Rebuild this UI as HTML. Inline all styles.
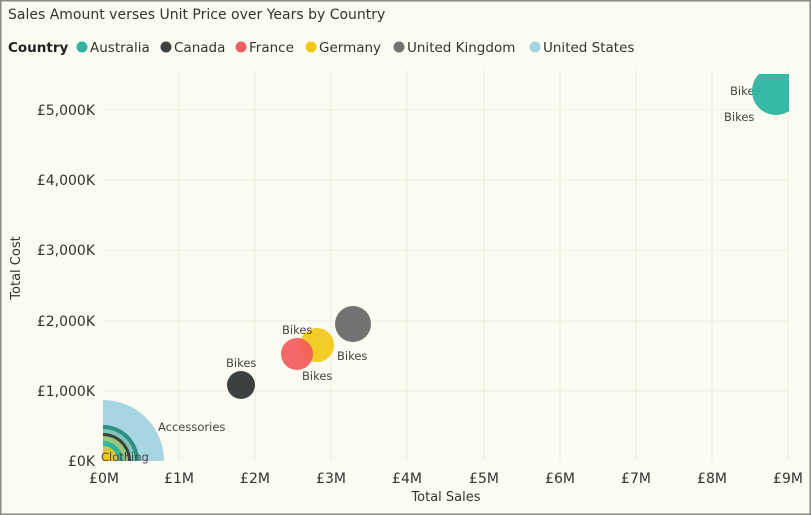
<!DOCTYPE html><html><head><style>
body{margin:0;width:811px;height:515px;overflow:hidden;background:#fbfbf1;font-family:"DejaVu Sans","Liberation Sans",sans-serif}
</style></head><body>
<svg width="811" height="515" xmlns="http://www.w3.org/2000/svg" style="position:absolute;left:0;top:0">
<rect x="0.5" y="0.5" width="810" height="514" fill="#fbfbf1" stroke="#8a8a84" stroke-width="2"/>
<text x="8" y="19" font-size="14" fill="#333">Sales Amount verses Unit Price over Years by Country</text>
<g font-size="13.5" fill="#333">
<text x="8" y="52" font-weight="bold" fill="#222">Country</text>
<circle cx="82" cy="47" r="5.5" fill="#2db5a0"/><text x="90" y="52">Australia</text>
<circle cx="166" cy="47" r="5.5" fill="#3c403e"/><text x="174" y="52">Canada</text>
<circle cx="241" cy="47" r="5.5" fill="#f06060"/><text x="249" y="52">France</text>
<circle cx="311" cy="47" r="5.5" fill="#f2c811"/><text x="319" y="52">Germany</text>
<circle cx="399" cy="47" r="5.5" fill="#707370"/><text x="407" y="52">United Kingdom</text>
<circle cx="535" cy="47" r="5.5" fill="#a3d3e2"/><text x="543" y="52">United States</text>
</g>
<g stroke="#ebebe0" stroke-width="1">
<line x1="179" y1="70" x2="179" y2="461"/><line x1="255" y1="70" x2="255" y2="461"/><line x1="331" y1="70" x2="331" y2="461"/><line x1="407" y1="70" x2="407" y2="461"/><line x1="484" y1="70" x2="484" y2="461"/><line x1="560" y1="70" x2="560" y2="461"/><line x1="636" y1="70" x2="636" y2="461"/><line x1="712" y1="70" x2="712" y2="461"/><line x1="788" y1="70" x2="788" y2="461"/>
<line x1="103" y1="391" x2="789" y2="391"/><line x1="103" y1="321" x2="789" y2="321"/><line x1="103" y1="250" x2="789" y2="250"/><line x1="103" y1="180" x2="789" y2="180"/><line x1="103" y1="110" x2="789" y2="110"/>
</g>
<g font-size="14" fill="#333" text-anchor="end">
<text x="95" y="466">£0K</text><text x="95" y="396">£1,000K</text><text x="95" y="326">£2,000K</text><text x="95" y="255">£3,000K</text><text x="95" y="185">£4,000K</text><text x="95" y="115">£5,000K</text>
</g>
<g font-size="14" fill="#333" text-anchor="middle">
<text x="104" y="483">£0M</text><text x="179" y="483">£1M</text><text x="255" y="483">£2M</text><text x="331" y="483">£3M</text><text x="407" y="483">£4M</text><text x="484" y="483">£5M</text><text x="560" y="483">£6M</text><text x="636" y="483">£7M</text><text x="712" y="483">£8M</text><text x="788" y="483">£9M</text>
</g>
<text x="446" y="501" font-size="13" fill="#333" text-anchor="middle">Total Sales</text>
<text transform="translate(20,268) rotate(-90)" font-size="13" fill="#333" text-anchor="middle">Total Cost</text>
<defs><clipPath id="c"><rect x="103" y="74" width="686" height="387"/></clipPath></defs>
<g clip-path="url(#c)">
<circle cx="103" cy="461" r="61" fill="#a8d5e2"/>
<circle cx="103" cy="461" r="36" fill="#2a8f80"/>
<circle cx="103" cy="461" r="32" fill="#7fc4b6"/>
<circle cx="103" cy="461" r="28" fill="#3c403e"/>
<circle cx="103" cy="461" r="25" fill="#9cc77a"/>
<circle cx="103" cy="461" r="20" fill="#2db5a0"/>
<circle cx="103" cy="461" r="15" fill="#d6c640"/>
<circle cx="103" cy="461" r="10" fill="#f2c811"/>
</g>
<circle cx="241" cy="385" r="14" fill="#3c403e"/>
<circle cx="353" cy="324" r="18" fill="#707370"/>
<circle cx="317" cy="345" r="17" fill="#f2c811" opacity="0.9"/>
<circle cx="297" cy="354" r="16" fill="#f45b5b" opacity="0.92"/>
<g font-size="11.5" fill="#444">
<text x="158" y="431">Accessories</text>
<text x="101" y="461">Clothing</text>
<text x="226" y="367">Bikes</text>
<text x="282" y="334">Bikes</text>
<text x="337" y="360">Bikes</text>
<text x="302" y="380">Bikes</text>
<text x="730" y="95">Bikes</text>
<text x="724" y="121">Bikes</text>
</g>
<g clip-path="url(#c)">
<circle cx="776" cy="91" r="24" fill="#2db5a0" opacity="0.95"/>
</g>
</svg>
</body></html>
